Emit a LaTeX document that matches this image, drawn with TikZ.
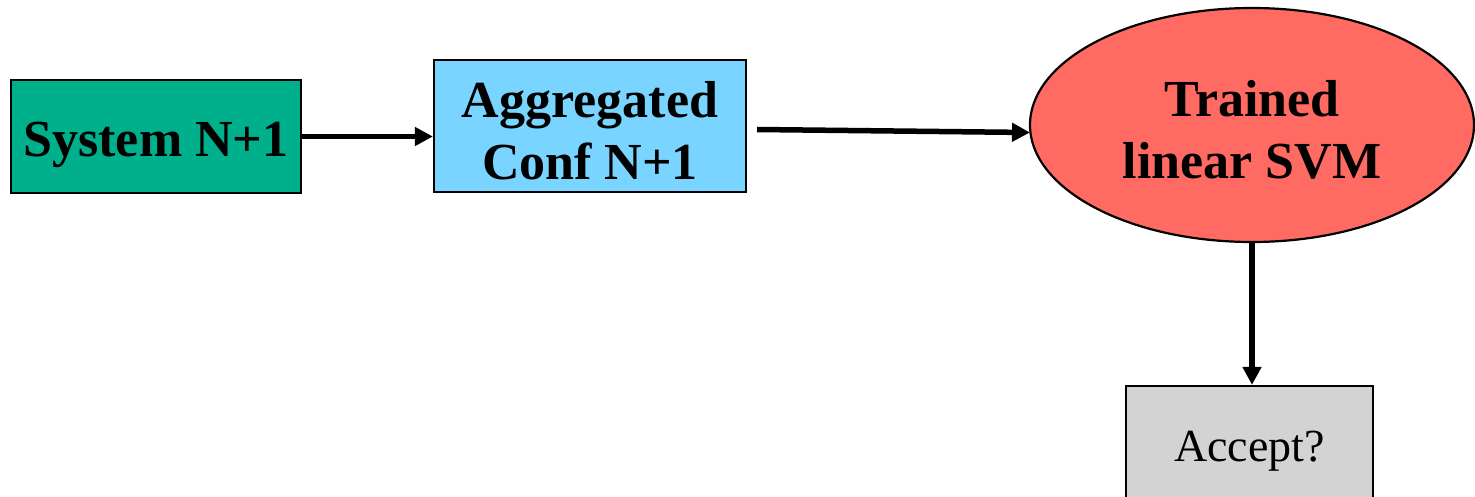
\documentclass[tikz,border=0pt]{standalone}
\usepackage{fontspec}
\setmainfont{Liberation Serif}
\usetikzlibrary{arrows.meta,shapes.geometric}
\definecolor{teal1}{HTML}{00B08C}
\definecolor{blue1}{HTML}{79D5FF}
\definecolor{red1}{HTML}{FF6A62}
\definecolor{gray1}{HTML}{D3D3D3}
\newcommand\mystrut[1]{\rule{0pt}{#1}}
\begin{document}
\begin{tikzpicture}[x=1pt,y=-1pt,
  boxst/.style={draw=black,line width=2.2pt,rectangle,inner sep=0pt,align=center,
    font=\fontsize{52}{62}\selectfont\bfseries},
  arr/.style={line width=5.5pt,-{Triangle[length=18pt,width=18pt]}}]
\useasboundingbox (0,0) rectangle (1475,497);
\begin{scope}
\clip (0,0) rectangle (1475,497);
\node[boxst,fill=teal1,minimum width=290pt,minimum height=113pt] (sys) at (156,136.5) {\mystrut{51pt}System N+1};
\node[boxst,fill=blue1,minimum width=312pt,minimum height=132pt] (agg) at (590,126) {\mystrut{45pt}Aggregated\\Conf N+1};
\node[boxst,ellipse,fill=red1,minimum width=444pt,minimum height=234pt] (svm) at (1252,125) {\mystrut{45pt}Trained\\linear SVM};
\node[boxst,fill=gray1,minimum width=247pt,minimum height=130pt,font=\fontsize{46}{55}\selectfont] (acc) at (1249.5,451) {Accept?};
\end{scope}
\coordinate (a2s) at (757,129.5);
\coordinate (a2e) at (1030,132.5);
\draw[arr] (sys.east) -- (sys.east -| agg.west);
\draw[arr] (a2s) -- (a2e);
\draw[arr] (svm.south) -- (svm.south |- acc.north);
\end{tikzpicture}
\end{document}
